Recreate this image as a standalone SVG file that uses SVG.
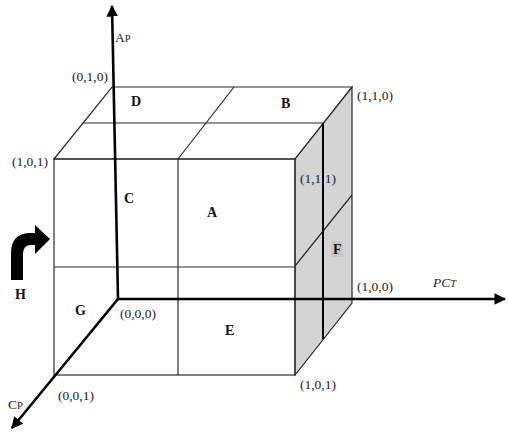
<svg xmlns="http://www.w3.org/2000/svg" width="508" height="437" viewBox="0 0 508 437">
<style>
.e{stroke:#2a2a2a;stroke-width:1.2;fill:none}
.ax{stroke:#000;stroke-width:2.6;fill:none}
.c{font-family:"Liberation Serif",serif;font-size:13.5px;fill:#222}
.l{font-family:"Liberation Serif",serif;font-size:14px;font-weight:bold;fill:#111}
</style>
<defs>
<marker id="ah" viewBox="0 0 10 10" refX="9" refY="5" markerWidth="4.5" markerHeight="4.5" orient="auto" markerUnits="strokeWidth">
<path d="M0,0 L10,5 L0,10 Z" fill="#000"/>
</marker>
</defs>
<rect width="508" height="437" fill="#fff"/>
<g id="cube">
<polygon points="295,159 352,87 352,303 295,375" fill="#d4d4d4" stroke="#2a2a2a" stroke-width="1.2"/>
<polygon class="e" points="54,159 112,87 352,87 295,159"/>
<rect class="e" x="54" y="159" width="241" height="216"/>
<line class="e" x1="83" y1="123" x2="323" y2="123"/>
<line class="e" x1="178" y1="159" x2="234" y2="87"/>
<line class="e" x1="178" y1="159" x2="178" y2="375"/>
<line class="e" x1="54" y1="267" x2="295" y2="267"/>
<line class="e" x1="295" y1="266" x2="352" y2="195"/>
<line stroke="#000" stroke-width="2" x1="323" y1="123" x2="323" y2="339"/>
</g>
<g id="axes">
<line class="ax" x1="118" y1="299" x2="112" y2="6" marker-end="url(#ah)"/>
<line class="ax" x1="118" y1="299" x2="505" y2="299" marker-end="url(#ah)"/>
<line class="ax" x1="118" y1="299" x2="12" y2="428" marker-end="url(#ah)"/>
</g>
<g id="H">
<path d="M11,280 L11,253 Q11,233 31,233 L35,233 L35,225 L50,239 L35,254 L35,245 L31,245 Q23,245 23,254 L23,280 Z" fill="#000"/>
<text class="l" x="15" y="299">H</text>
</g>
<g id="regions">
<text class="l" x="131" y="106">D</text>
<text class="l" x="281" y="108">B</text>
<text class="l" x="124" y="203">C</text>
<text class="l" x="207" y="217">A</text>
<rect x="331" y="241" width="12" height="16" fill="#c8c8c8"/>
<text class="l" x="333" y="254">F</text>
<text class="l" x="75" y="315">G</text>
<text class="l" x="225" y="335">E</text>
</g>
<g id="coords">
<text class="c" x="72" y="81">(0,1,0)</text>
<text class="c" x="357" y="100">(1,1,0)</text>
<text class="c" x="12" y="166">(1,0,1)</text>
<text class="c" x="300" y="183">(1,1,1)</text>
<text class="c" x="357" y="291">(1,0,0)</text>
<text class="c" x="120" y="318">(0,0,0)</text>
<text class="c" x="58" y="400">(0,0,1)</text>
<text class="c" x="300" y="389">(1,0,1)</text>
</g>
<g id="axis-labels">
<text class="c" x="115" y="42" font-size="14">A<tspan font-size="10.5">P</tspan></text>
<text class="c" x="433" y="287" font-size="14" font-style="italic">PC<tspan font-size="10.5">T</tspan></text>
<text class="c" x="8" y="409" font-size="14">C<tspan font-size="10.5">P</tspan></text>
</g>
</svg>
